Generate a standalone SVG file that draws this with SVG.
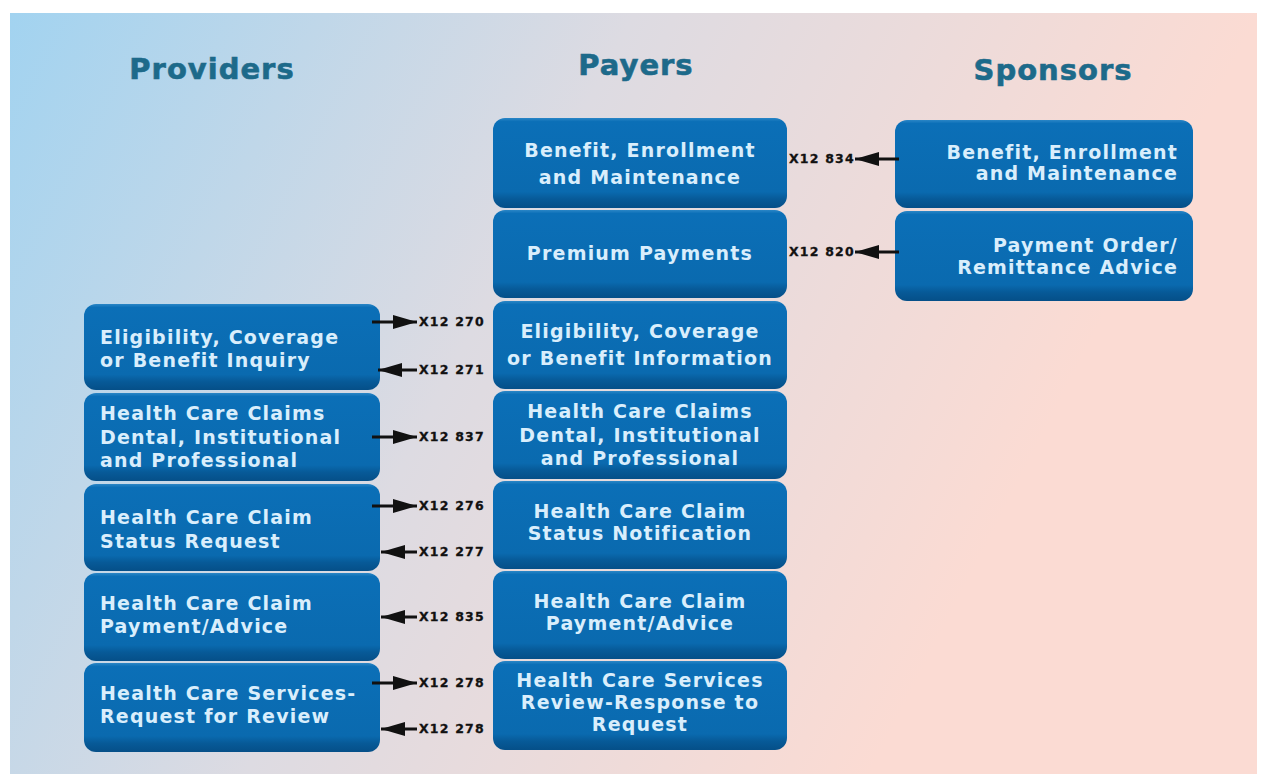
<svg xmlns="http://www.w3.org/2000/svg" width="1261" height="774" viewBox="0 0 1261 774">
<defs>
<linearGradient id="bg" gradientUnits="userSpaceOnUse" x1="10" y1="13" x2="1000" y2="520">
<stop offset="0" stop-color="#a2d3f0"/>
<stop offset="0.5" stop-color="#dddbe2"/>
<stop offset="1" stop-color="#fbdbd3"/>
</linearGradient>
<linearGradient id="boxg" x1="0" y1="0" x2="0" y2="1">
<stop offset="0" stop-color="#2a86c6"/>
<stop offset="0.04" stop-color="#0b6fb7"/>
<stop offset="0.82" stop-color="#0a6aaf"/>
<stop offset="0.9" stop-color="#075a98"/>
<stop offset="1" stop-color="#054f88"/>
</linearGradient>
<marker id="ah" markerUnits="userSpaceOnUse" markerWidth="26" markerHeight="14" refX="24" refY="7" orient="auto">
<path d="M0,0 L24,7 L0,14 z" fill="#111"/>
</marker>
</defs>
<style>
.box{fill:url(#boxg);}
.bt{font-family:"DejaVu Sans",sans-serif;font-weight:bold;font-size:19px;letter-spacing:1.2px;fill:#d9eefc;}
.mid{text-anchor:middle;}
.end{text-anchor:end;}
.hd{font-family:"DejaVu Sans",sans-serif;font-weight:bold;font-size:29px;letter-spacing:1px;fill:#1d6a8a;text-anchor:middle;stroke:#1d6a8a;stroke-width:0.6;}
.lb{font-family:"DejaVu Sans",sans-serif;font-weight:bold;font-size:12.5px;letter-spacing:1.2px;fill:#111;stroke:#111;stroke-width:0.3;}
.cn{stroke:#111;stroke-width:3;fill:none;marker-end:url(#ah);}
</style>
<rect x="10" y="13" width="1247" height="761" fill="url(#bg)"/>

<text class="hd" x="212" y="79">Providers</text>
<text class="hd" x="636" y="75">Payers</text>
<text class="hd" x="1053" y="80">Sponsors</text>

<g id="pay-benefit"><rect class="box" x="493" y="118" width="294" height="90" rx="12"/>
<text class="bt mid" x="640" y="157">Benefit, Enrollment</text><text class="bt mid" x="640" y="184">and Maintenance</text></g>
<g id="pay-premium"><rect class="box" x="493" y="210" width="294" height="88" rx="12"/>
<text class="bt mid" x="640" y="260">Premium Payments</text></g>
<g id="pay-eligibility"><rect class="box" x="493" y="301" width="294" height="88" rx="12"/>
<text class="bt mid" x="640" y="338">Eligibility, Coverage</text><text class="bt mid" x="640" y="365">or Benefit Information</text></g>
<g id="pay-claims"><rect class="box" x="493" y="391" width="294" height="88" rx="12"/>
<text class="bt mid" x="640" y="418">Health Care Claims</text><text class="bt mid" x="640" y="442">Dental, Institutional</text><text class="bt mid" x="640" y="465">and Professional</text></g>
<g id="pay-status"><rect class="box" x="493" y="481" width="294" height="88" rx="12"/>
<text class="bt mid" x="640" y="518">Health Care Claim</text><text class="bt mid" x="640" y="540">Status Notification</text></g>
<g id="pay-payment"><rect class="box" x="493" y="571" width="294" height="88" rx="12"/>
<text class="bt mid" x="640" y="608">Health Care Claim</text><text class="bt mid" x="640" y="630">Payment/Advice</text></g>
<g id="pay-services"><rect class="box" x="493" y="661" width="294" height="89" rx="12"/>
<text class="bt mid" x="640" y="687">Health Care Services</text><text class="bt mid" x="640" y="709">Review-Response to</text><text class="bt mid" x="640" y="731">Request</text></g>

<g id="prov-eligibility"><rect class="box" x="84" y="304" width="296" height="86" rx="12"/>
<text class="bt" x="100" y="344">Eligibility, Coverage</text><text class="bt" x="100" y="367">or Benefit Inquiry</text></g>
<g id="prov-claims"><rect class="box" x="84" y="393" width="296" height="88" rx="12"/>
<text class="bt" x="100" y="420">Health Care Claims</text><text class="bt" x="100" y="444">Dental, Institutional</text><text class="bt" x="100" y="467">and Professional</text></g>
<g id="prov-status"><rect class="box" x="84" y="484" width="296" height="87" rx="12"/>
<text class="bt" x="100" y="524">Health Care Claim</text><text class="bt" x="100" y="548">Status Request</text></g>
<g id="prov-payment"><rect class="box" x="84" y="573" width="296" height="88" rx="12"/>
<text class="bt" x="100" y="610">Health Care Claim</text><text class="bt" x="100" y="633">Payment/Advice</text></g>
<g id="prov-services"><rect class="box" x="84" y="663" width="296" height="89" rx="12"/>
<text class="bt" x="100" y="700">Health Care Services-</text><text class="bt" x="100" y="723">Request for Review</text></g>

<g id="spon-benefit"><rect class="box" x="895" y="120" width="298" height="88" rx="12"/>
<text class="bt end" x="1178" y="159">Benefit, Enrollment</text><text class="bt end" x="1178" y="180">and Maintenance</text></g>
<g id="spon-payment"><rect class="box" x="895" y="211" width="298" height="90" rx="12"/>
<text class="bt end" x="1178" y="252">Payment Order/</text><text class="bt end" x="1178" y="274">Remittance Advice</text></g>

<g id="connectors">
<line class="cn" x1="372" y1="322" x2="417" y2="322"/>
<line class="cn" x1="417" y1="370" x2="378" y2="370"/>
<line class="cn" x1="372" y1="437" x2="417" y2="437"/>
<line class="cn" x1="372" y1="506" x2="417" y2="506"/>
<line class="cn" x1="417" y1="552" x2="381" y2="552"/>
<line class="cn" x1="417" y1="617" x2="381" y2="617"/>
<line class="cn" x1="372" y1="683" x2="417" y2="683"/>
<line class="cn" x1="417" y1="729" x2="381" y2="729"/>
<line class="cn" x1="899" y1="159" x2="855" y2="159"/>
<line class="cn" x1="899" y1="252" x2="855" y2="252"/>
<text class="lb" x="419" y="326">X12 270</text>
<text class="lb" x="419" y="374">X12 271</text>
<text class="lb" x="419" y="441">X12 837</text>
<text class="lb" x="419" y="510">X12 276</text>
<text class="lb" x="419" y="556">X12 277</text>
<text class="lb" x="419" y="621">X12 835</text>
<text class="lb" x="419" y="687">X12 278</text>
<text class="lb" x="419" y="733">X12 278</text>
<text class="lb" x="789" y="163">X12 834</text>
<text class="lb" x="789" y="256">X12 820</text>
</g>
</svg>
